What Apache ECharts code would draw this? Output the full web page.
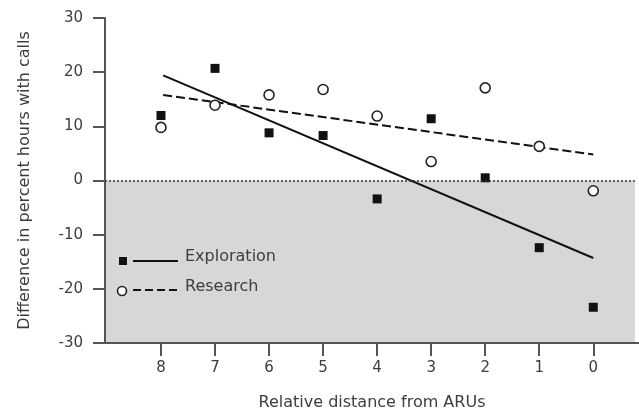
<!DOCTYPE html>
<html lang="en">
<head>
    <meta charset="UTF-8">
    <title>Relative distance from ARUs</title>
    <script src="https://cdn.jsdelivr.net/npm/echarts@6/dist/echarts.min.js"></script>
    <style>
        body { margin: 0; background: #fff; }
    </style>
</head>
<body>
<div id="main" style="width: 639px;height:412px;"></div>

<script type="text/javascript">
    // distances (x)
    var distance = [8, 7, 6, 5, 4, 3, 2, 1, 0];
    var exploration = [12.0, 20.7, 8.8, 8.3, -3.4, 11.4, 0.5, -12.4, -23.4];
    var research = [9.8, 13.9, 15.8, 16.8, 11.9, 3.5, 17.1, 6.3, -1.9];
    // fitted lines, endpoints as drawn
    var fitX = [7.96, 0];
    var explorationFit = [19.4, -14.3];
    var researchFit = [15.8, 4.8];
    var xTicks = [0, 1, 2, 3, 4, 5, 6, 7, 8];

    function pairs(xs, ys) {
        var out = [];
        for (var i = 0; i < xs.length; i++) {
            out.push([xs[i], ys[i]]);
        }
        return out;
    }

    var font = 'DejaVu Sans';
    var ink = '#3d3d3d';
    var myChart = echarts.init(document.getElementById('main'));

    var option = {
        animation: false,
        textStyle: { fontFamily: font },
        grid: { left: 105, right: 0, top: 18, bottom: 69, containLabel: false, outerBoundsMode: 'none' },
        xAxis: {
            type: 'value',
            inverse: true,
            min: -0.846,
            max: 9.036,
            z: 5,
            name: 'Relative distance from ARUs',
            nameLocation: 'middle',
            nameGap: 52,
            nameTextStyle: { color: ink, fontSize: 16, fontFamily: font },
            axisLine: { onZero: false, lineStyle: { color: '#555', width: 2 } },
            axisTick: { show: true, length: 13, lineStyle: { color: '#555', width: 2 }, customValues: xTicks },
            axisLabel: { color: ink, fontSize: 15, margin: 18, customValues: xTicks },
            splitLine: { show: false }
        },
        yAxis: {
            type: 'value',
            min: -30,
            max: 30,
            interval: 10,
            z: 5,
            name: 'Difference in percent hours with calls',
            nameLocation: 'middle',
            nameGap: 72,
            nameTextStyle: { color: ink, fontSize: 16, fontFamily: font },
            axisLine: { show: true, onZero: false, lineStyle: { color: '#555', width: 2 } },
            axisTick: { show: true, length: 12, lineStyle: { color: '#555', width: 2 } },
            axisLabel: { color: ink, fontSize: 15, margin: 22 },
            splitLine: { show: false }
        },
        series: [
            {
                name: 'Exploration fit',
                type: 'line',
                data: pairs(fitX, explorationFit),
                symbol: 'none',
                lineStyle: { color: '#111', width: 2 },
                z: 3,
                markArea: {
                    silent: true,
                    itemStyle: { color: '#d7d7d7' },
                    data: [[{ xAxis: 9.036, yAxis: -30 }, { xAxis: -0.77, yAxis: 0 }]]
                },
                markLine: {
                    silent: true,
                    symbol: 'none',
                    label: { show: false },
                    lineStyle: { color: '#333', type: [2, 2], width: 1.5 },
                    data: [[{ coord: [9.036, 0] }, { coord: [-0.77, 0] }]]
                }
            },
            {
                name: 'Research fit',
                type: 'line',
                data: pairs(fitX, researchFit),
                symbol: 'none',
                lineStyle: { color: '#111', width: 2, type: [9, 4] },
                z: 3
            },
            {
                name: 'Exploration',
                type: 'scatter',
                data: pairs(distance, exploration),
                symbol: 'rect',
                symbolSize: 9,
                itemStyle: { color: '#111', opacity: 1 },
                z: 4
            },
            {
                name: 'Research',
                type: 'scatter',
                data: pairs(distance, research),
                symbol: 'circle',
                symbolSize: 10,
                itemStyle: { color: '#fff', borderColor: '#222', borderWidth: 1.6, opacity: 1 },
                z: 4
            }
        ],
        graphic: [
            { type: 'rect', shape: { x: 119, y: 257, width: 8, height: 8 }, style: { fill: '#111' }, z: 10 },
            { type: 'line', shape: { x1: 133, y1: 261, x2: 178, y2: 261 }, style: { stroke: '#111', lineWidth: 2 }, z: 10 },
            { type: 'text', left: 185, top: 249, style: { text: 'Exploration', fill: ink, fontSize: 16, fontFamily: font }, z: 10 },
            { type: 'circle', shape: { cx: 122, cy: 291, r: 4.5 }, style: { fill: '#fff', stroke: '#222', lineWidth: 1.6 }, z: 10 },
            { type: 'line', shape: { x1: 133, y1: 290, x2: 178, y2: 290 }, style: { stroke: '#111', lineWidth: 2, lineDash: [8, 4] }, z: 10 },
            { type: 'text', left: 185, top: 279, style: { text: 'Research', fill: ink, fontSize: 16, fontFamily: font }, z: 10 }
        ]
    };
    myChart.setOption(option);
</script>
</body>
</html>
